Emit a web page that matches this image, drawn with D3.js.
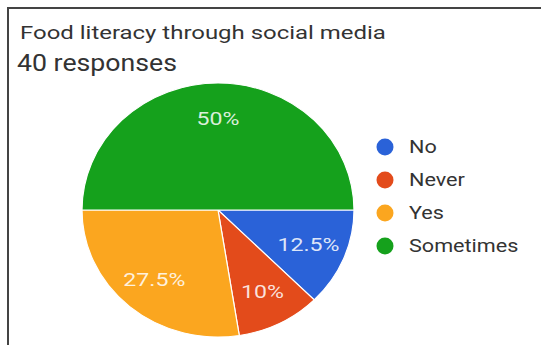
<!DOCTYPE html>
<html>
<head>
<meta charset="utf-8">
<script src="https://cdn.jsdelivr.net/npm/d3@7/dist/d3.min.js"></script>
<style>
  html, body { margin: 0; padding: 0; background: #fff; }
  svg { display: block; font-family: Roboto, "Noto Sans", sans-serif; }
</style>
</head>
<body>
<svg id="chart" width="541" height="345"></svg>
<script>
// Survey answers, in drawing order (clockwise from 3 o'clock)
const categories = ["No", "Never", "Yes", "Sometimes"];
const counts = [5, 4, 11, 20];
const percentLabels = ["12.5%", "10%", "27.5%", "50%"];
const colors = ["#2a62d8", "#e34b1b", "#fba61f", "#15a11c"];
const title = "Food literacy through social media";
const subtitle = "40 responses";

const svg = d3.select("#chart");

// Widen glyphs a little (wide rendering of the card text)
function widen(sel, k) {
  sel.each(function () {
    const w = this.getComputedTextLength();
    d3.select(this).attr("textLength", w * k).attr("lengthAdjust", "spacingAndGlyphs");
  });
}

// Card frame: top and left edges
svg.append("line").attr("x1", 8).attr("x2", 541).attr("y1", 8).attr("y2", 8)
  .attr("stroke", "#444").attr("stroke-width", 2);
svg.append("line").attr("x1", 8).attr("x2", 8).attr("y1", 7).attr("y2", 345)
  .attr("stroke", "#444").attr("stroke-width", 2);

svg.append("text").attr("x", 20).attr("y", 39)
  .attr("font-size", 18).attr("fill", "#333").text(title)
  .call(widen, 1.33);
svg.append("text").attr("x", 17).attr("y", 71)
  .attr("font-size", 23).attr("fill", "#333").text(subtitle)
  .call(widen, 1.16);

// Pie geometry (slightly flattened vertically)
const cx = 218, cy = 210, r = 136, ry = 127;
const sy = ry / r;

const pie = d3.pie().sort(null).value(d => d)
  .startAngle(Math.PI / 2).endAngle(Math.PI / 2 + 2 * Math.PI);
const arcs = pie(counts);
const arc = d3.arc().innerRadius(0).outerRadius(r);
const labelArc = d3.arc().innerRadius(r * 0.72).outerRadius(r * 0.72);

const g = svg.append("g").attr("transform", `translate(${cx},${cy}) scale(1,${sy})`);
g.selectAll("path").data(arcs).join("path")
  .attr("d", arc)
  .attr("fill", (d, i) => colors[i])
  .attr("stroke", "#fff").attr("stroke-width", 1.2);

svg.append("g").selectAll("text").data(arcs).join("text")
  .attr("x", d => cx + labelArc.centroid(d)[0])
  .attr("y", d => cy + labelArc.centroid(d)[1] * sy)
  .attr("dy", "0.35em")
  .attr("text-anchor", "middle")
  .attr("font-size", 18.5)
  .attr("fill", "#fff").attr("fill-opacity", 0.85)
  .text((d, i) => percentLabels[i])
  .call(widen, 1.25);

// Legend
const legend = svg.append("g").selectAll("g").data(categories).join("g")
  .attr("transform", (d, i) => `translate(385,${147 + i * 33})`);
legend.append("circle").attr("r", 8.5).attr("fill", (d, i) => colors[i]);
legend.append("text").attr("x", 24).attr("dy", "0.35em")
  .attr("font-size", 18).attr("fill", "#333").text(d => d)
  .call(widen, 1.2);
</script>
</body>
</html>
